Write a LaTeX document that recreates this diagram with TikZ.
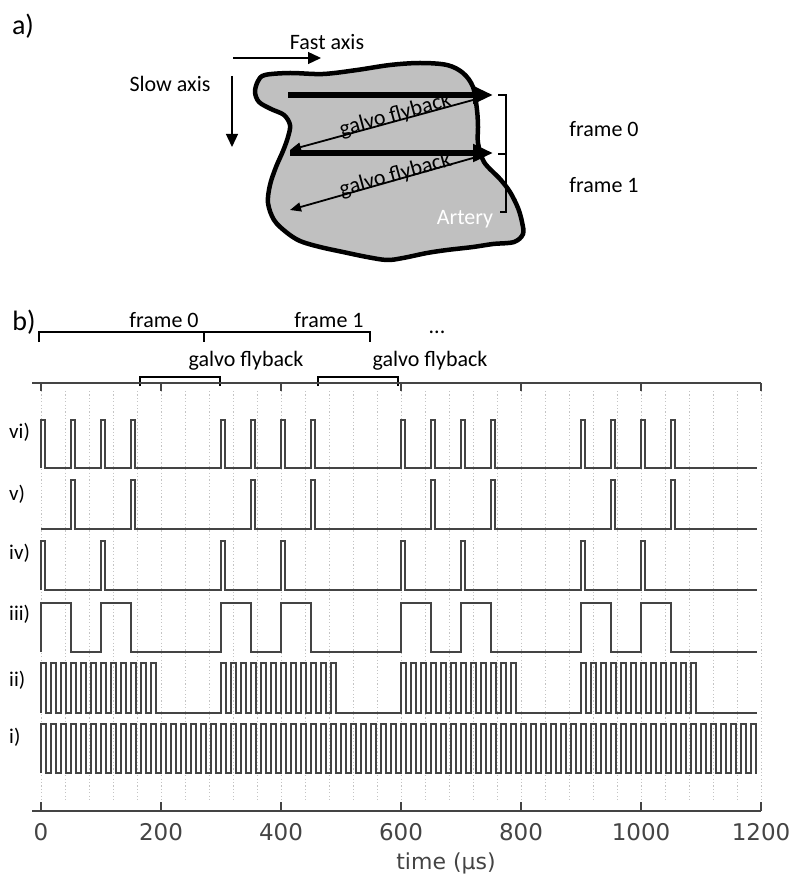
\documentclass[tikz,border=0pt]{standalone}
\usepackage{fontspec}
\setmainfont{Carlito}
\newfontfamily\dvsans{DejaVu Sans}
\usetikzlibrary{arrows.meta}

\definecolor{trace}{HTML}{444444}
\definecolor{tissue}{HTML}{C0C0C0}
\definecolor{gridc}{HTML}{C4C4C4}

\begin{document}
\begin{tikzpicture}[x=1pt,y=-1pt,
  txt/.style={font=\fontsize{22}{26}\selectfont, inner sep=0pt},
  panel/.style={font=\fontsize{28}{32}\selectfont, inner sep=0pt},
  rowlbl/.style={font=\fontsize{21}{25}\selectfont, inner sep=0pt, anchor=west},
  ticklbl/.style={font=\dvsans\fontsize{23}{27}\selectfont, inner sep=0pt, text=trace},
  wave/.style={draw=trace, line width=1.6pt, line join=miter},
  axisline/.style={draw=trace, line width=1.5pt},
  gridline/.style={draw=gridc, line width=0.8pt, dash pattern=on 1.2pt off 2.2pt},
  bracketline/.style={draw=black, line width=1.5pt},
  scanarrow/.style={line width=6.5pt, -{Triangle[length=20pt,width=17pt]}},
  flyarrow/.style={line width=1.8pt, -{Triangle[length=11pt,width=9pt]}},
  axisarrow/.style={line width=1.3pt, -{Triangle[length=13pt,width=12pt]}}]

\useasboundingbox (0,0) rectangle (791,874);

% ---------------- panel a: scan pattern over the tissue ----------------
\node[panel] (pa) at (23,26) {a)};

\coordinate (fastA) at (233,58);
\coordinate (fastB) at (321,58);
\draw[axisarrow] (fastA) -- (fastB);
\node[txt, anchor=base] (fastlbl) at (327,50) {Fast axis};

\coordinate (slowA) at (232,76);
\coordinate (slowB) at (232,147);
\draw[axisarrow] (slowA) -- (slowB);
\node[txt, anchor=base] (slowlbl) at (170,92) {Slow axis};

% tissue outline
\draw[fill=tissue, line width=4.5pt, line join=round]
  plot[smooth cycle, tension=0.55] coordinates {
  (265,75) (290,73) (323,74) (357,70) (390,65) (420,63) (447,65) (463,73)
  (473,87) (477,110) (478,127) (478,143) (484,162) (500,179) (510,192)
  (518,208) (522,222) (523,234) (514,242) (493,244) (473,247) (447,250)
  (427,253) (403,258) (387,260) (367,257) (343,252) (320,247) (300,241)
  (286,232) (274,220) (268,203) (270,185) (276,167) (283,151) (288,137)
  (290,125) (284,115) (271,109) (259,102) (255,92) (258,81)};

\node[txt, anchor=base, rotate=15.3] (fly1) at (397,121) {galvo flyback};
\node[txt, anchor=base, rotate=15.6] (fly2) at (397,181) {galvo flyback};

\coordinate (flyAs) at (473,100);
\coordinate (flyAe) at (290,150);
\coordinate (flyBs) at (473,158);
\coordinate (flyBe) at (290,210);
\draw[flyarrow] (flyAs) -- (flyAe);
\draw[flyarrow] (flyBs) -- (flyBe);

\coordinate (scanAs) at (288,95);
\coordinate (scanAe) at (493,95);
\coordinate (scanBs) at (290,153);
\coordinate (scanBe) at (493,153);
\draw[scanarrow] (scanAs) -- (scanAe);
\draw[scanarrow] (scanBs) -- (scanBe);

\node[txt, anchor=base, text=white] (artery) at (465,225) {Artery};

% frame bracket
\draw[line width=1.3pt] (498,95) -- (506,95) -- (506,212) -- (500,212);
\draw[line width=1.3pt] (498,154) -- (506,154);
\node[txt, anchor=base] (fr0a) at (604,137) {frame 0};
\node[txt, anchor=base] (fr1a) at (604,193) {frame 1};

% ---------------- panel b: timing of the trigger signals ----------------
\node[panel] (pb) at (24,322) {b)};

\draw[bracketline] (39,342) -- (39,332) -- (370,332) -- (370,342);
\draw[bracketline] (204,332) -- (204,342);
\node[txt, anchor=base] (fr0b) at (164,327) {frame 0};
\node[txt, anchor=base] (fr1b) at (329,327) {frame 1};
\node[txt, anchor=base] (dots) at (437,333) {...};

\draw[bracketline] (140,386) -- (140,377) -- (220,377) -- (220,386);
\draw[bracketline] (318,386) -- (318,377) -- (398,377) -- (398,386);
\node[txt, anchor=base] (flyb1) at (246,366) {galvo flyback};
\node[txt, anchor=base] (flyb2) at (430,366) {galvo flyback};

\node[rowlbl] (r6) at (9,432) {vi)};
\node[rowlbl] (r5) at (9,494) {v)};
\node[rowlbl] (r4) at (9,553) {iv)};
\node[rowlbl] (r3) at (9,614) {iii)};
\node[rowlbl] (r2) at (9,680) {ii)};
\node[rowlbl] (r1) at (9,737) {i)};

\begin{scope}[xshift=41pt, x=0.6pt]
  % dotted grid every 40 us
  \foreach \t in {0,40,...,1200}
    \draw[gridline] (\t,391) -- (\t,802);

  % axes with major ticks
  \draw[axisline] (-15,383) -- (1200,383);
  \draw[axisline] (-15,811) -- (1200,811);
  \foreach \t in {0,200,...,1200} {
    \draw[axisline] (\t,383) -- (\t,391);
    \draw[axisline] (\t,811) -- (\t,802);
    \node[ticklbl] (tick\t) at (\t,832) {\t};
  }
  \node[font=\dvsans\fontsize{22}{26}\selectfont, inner sep=0pt, text=trace]
    (xlabel) at (675,863) {time (µs)};

  % vi) pixel clock of both lines
  \draw[wave] (0,468) \foreach \a in {0,50,100,150,300,350,400,450,600,650,700,750,900,950,1000,1050}
    { -- (\a,468) -- (\a,420) -- ({\a+7},420) -- ({\a+7},468) } -- (1193,468);
  % v)
  \draw[wave] (0,529) \foreach \a in {50,150,350,450,650,750,950,1050}
    { -- (\a,529) -- (\a,480) -- ({\a+7},480) -- ({\a+7},529) } -- (1193,529);
  % iv)
  \draw[wave] (0,590) \foreach \a in {0,100,300,400,600,700,900,1000}
    { -- (\a,590) -- (\a,541) -- ({\a+7},541) -- ({\a+7},590) } -- (1193,590);
  % iii)
  \draw[wave] (0,652) \foreach \a in {0,100,300,400,600,700,900,1000}
    { -- (\a,652) -- (\a,603) -- ({\a+50},603) -- ({\a+50},652) } -- (1193,652);
  % ii) bursts of 12 cycles
  \draw[wave] (0,713) \foreach \s in {0,300,600,900} { \foreach \k in {0,...,11}
    { -- ({\s+\k*50/3},713) -- ({\s+\k*50/3},663) -- ({\s+(\k+0.5)*50/3},663) -- ({\s+(\k+0.5)*50/3},713) } } -- (1193,713);
  % i) continuous clock
  \draw[wave] (0,773) \foreach \k in {0,...,71}
    { -- ({\k*50/3},773) -- ({\k*50/3},724) -- ({(\k+0.5)*50/3},724) -- ({(\k+0.5)*50/3},773) } -- (1193,773);
\end{scope}

\end{tikzpicture}
\end{document}
